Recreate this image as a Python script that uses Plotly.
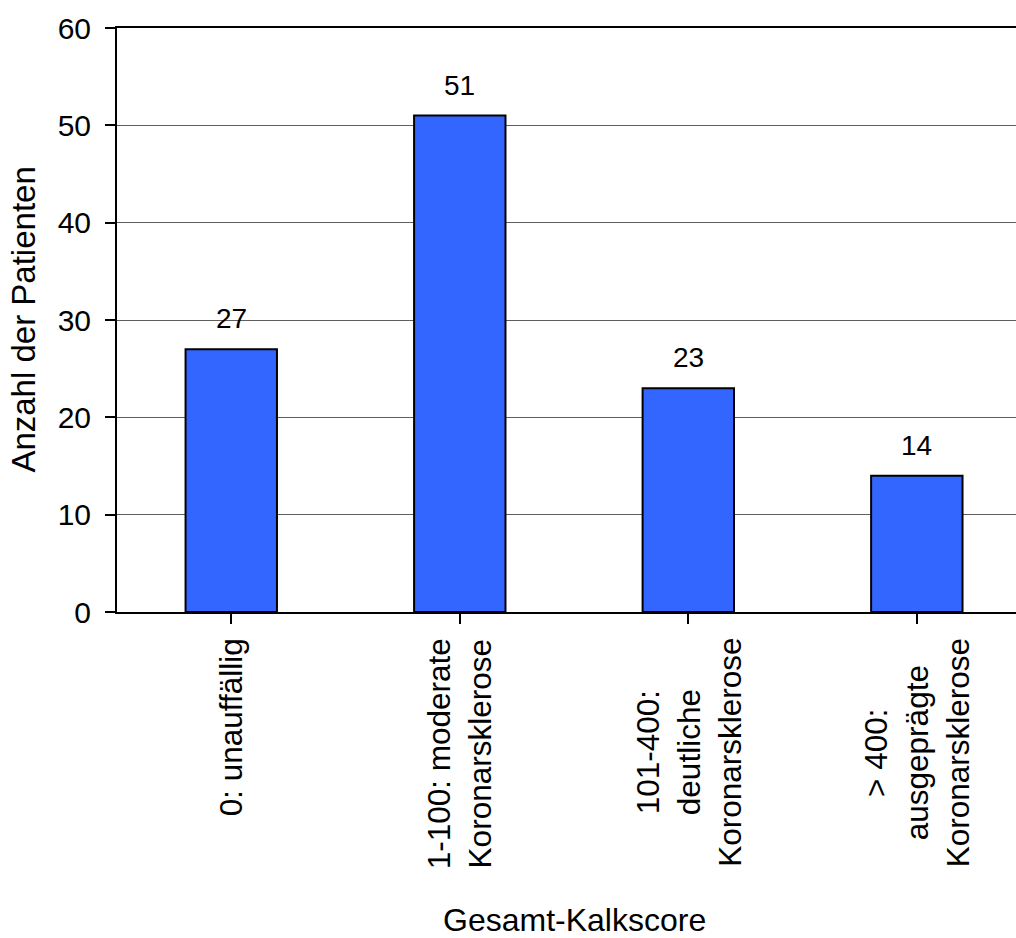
import plotly.graph_objects as go

# Patient counts per total calcium score class
categories = [
    "0: unauffällig",
    "1-100: moderate<br>Koronarsklerose",
    "101-400:<br>deutliche<br>Koronarsklerose",
    "> 400:<br>ausgeprägte<br>Koronarsklerose",
]
patients = [27, 51, 23, 14]
y_ticks = [0, 10, 20, 30, 40, 50, 60]

x_title = "Gesamt-Kalkscore"
y_title = "Anzahl der Patienten"

FONT = "Liberation Sans, Arial, sans-serif"
BAR_COLOR = "#3366FF"

positions = list(range(len(categories)))

fig = go.Figure()
fig.add_trace(
    go.Bar(
        x=positions,
        y=patients,
        marker=dict(color=BAR_COLOR, line=dict(color="black", width=2)),
        hoverinfo="skip",
    )
)

annotations = []
# value labels above each bar
for pos, val in zip(positions, patients):
    annotations.append(
        dict(
            x=pos, y=val, xref="x", yref="y",
            text=str(val), showarrow=False,
            xanchor="center", yanchor="bottom", yshift=13,
            font=dict(family=FONT, size=28, color="black"),
        )
    )
# rotated category labels below the axis
for pos, label in zip(positions, categories):
    annotations.append(
        dict(
            x=pos, y=0, xref="x", yref="paper",
            text=label, showarrow=False, textangle=-90, align="center",
            xanchor="center", yanchor="top", yshift=-24,
            font=dict(family=FONT, size=31.5, color="black"),
        )
    )
# axis titles
annotations.append(
    dict(
        x=1.5, y=0, xref="x", yref="paper",
        text=x_title, showarrow=False,
        xanchor="center", yanchor="middle", yshift=-308,
        font=dict(family=FONT, size=32, color="black"),
    )
)
annotations.append(
    dict(
        x=-0.105, y=0.5, xref="paper", yref="paper",
        text=y_title, showarrow=False, textangle=-90,
        xanchor="center", yanchor="middle",
        font=dict(family=FONT, size=33, color="black"),
    )
)

fig.update_layout(
    width=1016,
    height=938,
    margin=dict(l=117, r=0, t=28, b=326),
    paper_bgcolor="white",
    plot_bgcolor="white",
    bargap=0.6,
    showlegend=False,
    font=dict(family=FONT, color="black"),
    annotations=annotations,
)

fig.update_xaxes(
    range=[-0.5, 3.434],
    tickmode="array",
    tickvals=positions,
    ticktext=[""] * len(positions),
    tickson="boundaries",
    ticks="outside",
    ticklen=10,
    tickwidth=2,
    tickcolor="black",
    showticklabels=False,
    showline=True,
    linecolor="black",
    linewidth=2,
    mirror=True,
    showgrid=False,
    zeroline=False,
)

fig.update_yaxes(
    range=[0, 60],
    tickmode="array",
    tickvals=y_ticks,
    ticks="outside",
    ticklen=10,
    tickwidth=2,
    tickcolor="black",
    ticklabelstandoff=8,
    tickfont=dict(family=FONT, size=30, color="black"),
    showline=True,
    linecolor="black",
    linewidth=2,
    showgrid=True,
    gridcolor="#5e5e5e",
    gridwidth=1,
    zeroline=False,
)

fig.write_html("out.html")
